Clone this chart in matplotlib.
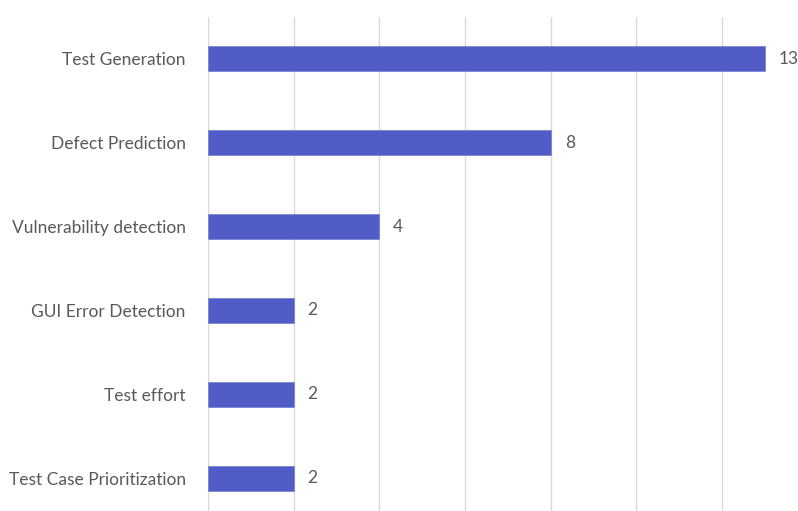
import matplotlib
matplotlib.use("Agg")
import matplotlib.pyplot as plt
import numpy as np

plt.rcParams['font.family'] = ['Lato', 'DejaVu Sans']

categories = ["Test Generation", "Defect Prediction", "Vulnerability detection",
              "GUI Error Detection", "Test effort", "Test Case Prioritization"]
counts = [13, 8, 4, 2, 2, 2]
grid_ticks = [0, 2, 4, 6, 8, 10, 12]

W, H = 798, 511
fig = plt.figure(figsize=(W / 100, H / 100), dpi=100)

# axes placed in pixels; bottom runs past the figure edge like the cropped original
left, right, top, bottom = 208, 798, 17, 520
ax = fig.add_axes([left / W, (H - bottom) / H, (right - left) / W, (bottom - top) / H])

unit = (765 - 208) / 13  # pixels per count
ax.set_xlim(0, (right - left) / unit)
ax.set_ylim(len(categories) - 0.5, -0.5)

y = np.arange(len(categories))
ax.barh(y, counts, height=0.3, color="#525CC7", edgecolor="#7D84D6", linewidth=0.6, zorder=3)

for yi, v in zip(y, counts):
    ax.annotate(str(v), (v, yi), xytext=(10, 0), textcoords="offset points",
                va="center", ha="left", fontsize=12.5, color="#595959", annotation_clip=False)

ax.set_xticks(grid_ticks)
ax.set_xticklabels([])
ax.tick_params(axis="x", length=0)
ax.set_yticks(y)
ax.set_yticklabels(categories, fontsize=12.5, color="#595959")
ax.tick_params(axis="y", length=0, pad=16)
ax.grid(axis="x", color="#D9D9D9", linewidth=1.0, zorder=0)
for s in ax.spines.values():
    s.set_visible(False)

fig.savefig("out.png", dpi=100)
